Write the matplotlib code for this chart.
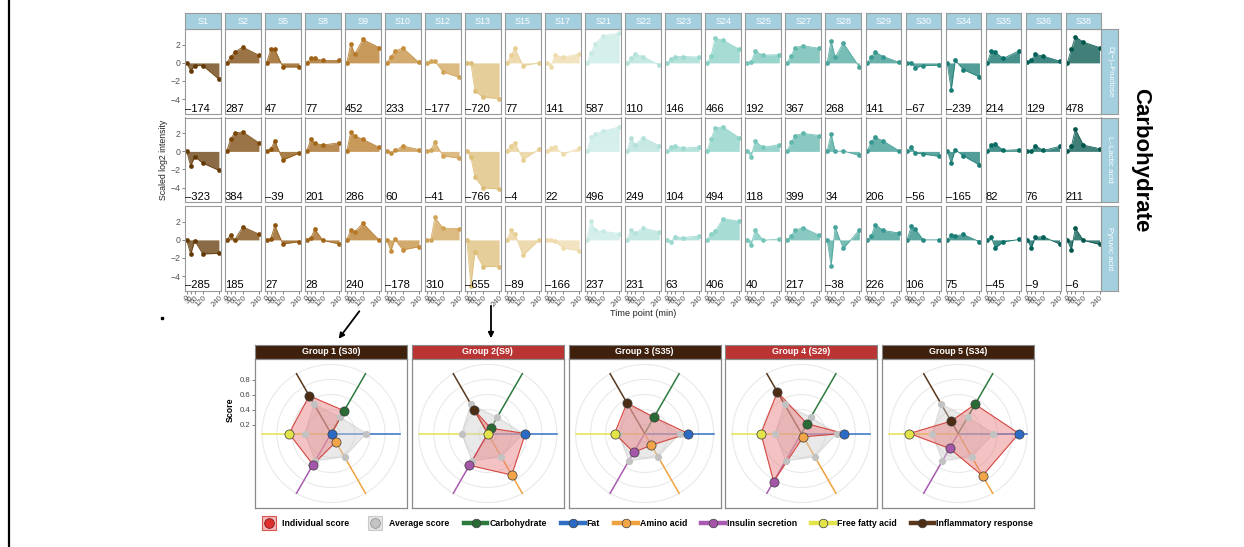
import numpy as np
import matplotlib
matplotlib.use("Agg")
import matplotlib.pyplot as plt
from matplotlib.lines import Line2D
from matplotlib.patches import FancyArrowPatch, Circle
from matplotlib.legend_handler import HandlerTuple

plt.rcParams['font.family'] = ['Liberation Sans', 'DejaVu Sans']

# ---------------------------------------------------------------- data
times = [0, 30, 60, 120, 240]
time_labels = ["0", "30", "60", "120", "240"]
subjects = ["S1", "S2", "S5", "S8", "S9", "S10", "S12", "S13", "S15", "S17",
            "S21", "S22", "S23", "S24", "S25", "S27", "S28", "S29", "S30",
            "S34", "S35", "S36", "S38"]
metabolites = ["D(\u2212)\u2013Fructose", "L\u2013Lactic acid", "Pyruvic acid"]

fructose = [
    [0, -0.9, -0.3, -0.3, -1.8], [0, 0.67, 1.2, 1.75, 0.85], [0, 1.5, 1.5, -0.45, -0.45],
    [0, 0.5, 0.5, 0.27, 0.27], [0, 2.1, 1.0, 2.6, 1.7], [0, 0.65, 1.3, 1.65, 0.05],
    [0, 0.2, 0.2, -1.0, -1.6], [0, 0, -3.1, -3.8, -3.95], [0, 0.85, 1.6, -0.3, 0],
    [0, -0.4, 0.9, 0.6, 1.0], [0, 1.05, 2.1, 3.0, 3.3], [0, 0.5, 1.0, 0.7, -0.25],
    [0, 0.4, 0.7, 0.7, 0.65], [0, 0.75, 2.7, 2.5, 1.5], [0, 0.05, 1.3, 0.85, 0.9],
    [0, 0.8, 1.7, 1.9, 1.6], [0, 2.45, 0.6, 2.2, -0.45], [0, 0.6, 1.2, 0.7, 0.05],
    [0, 0, -0.55, -0.3, -0.25], [0, -3.0, 0.3, -0.75, -1.55], [0, 1.3, 1.15, 0.5, 1.35],
    [0.05, 0.3, 0.95, 0.75, 0.2], [0, 1.5, 2.9, 2.3, 1.7],
]
lactic = [
    [0, -1.6, -0.6, -1.3, -2.1], [0, 1.4, 2.05, 2.15, 0.95], [0, 0.25, 1.15, -0.95, -0.2],
    [0, 1.35, 0.9, 0.7, 0.95], [0, 2.15, 1.7, 1.35, 0.45], [0, -0.2, 0.1, 0.6, 0.2],
    [0, 0.15, 1.05, -0.5, -0.75], [0, -0.65, -2.85, -4.05, -4.15], [0, 0.65, 0.95, -0.9, 0.25],
    [0, 0.4, 0.45, -0.3, 0.35], [0, 1.55, 1.95, 2.25, 2.7], [0, 1.5, 0.75, 1.5, 0.65],
    [0, 0.5, 0.6, 0.35, 0.5], [0, 1.35, 2.6, 2.7, 1.5], [0, -0.6, 1.15, 0.45, 0.75],
    [0, 1.0, 1.75, 2.0, 1.75], [0, 1.9, 0, 0.05, -0.45], [0, 1.05, 1.55, 1.15, 0.05],
    [0, 0.5, -0.15, -0.3, -0.55], [0, -1.25, 0.2, -0.5, -1.5], [0, 0.7, 0.85, 0.1, 0.2],
    [0, 0.05, 0.65, 0.1, 0.55], [0, 0.55, 2.45, 0.7, 0.3],
]
pyruvic = [
    [0, -1.6, -0.1, -1.55, -1.5], [0, 0.55, 0, 1.45, 0.65], [0, 0.1, 1.6, -0.45, -0.2],
    [0, 0.2, 1.2, -0.05, -0.45], [0, 1.1, 0.9, 1.85, 0], [0, -1.2, 0.05, -1.1, -0.75],
    [0, 0, 2.5, 1.3, 1.25], [0, -5.1, -1.3, -2.95, -2.95], [0, 1.05, 0.65, -1.7, 0],
    [0, -0.05, -0.15, -0.9, -1.2], [0, 2.05, 1.05, 0.95, 0.7], [0, 1.1, 0.75, 1.3, 0.9],
    [0, -0.2, 0.35, 0.25, 0.45], [0, 0.65, 0.95, 2.35, 2.05], [0, -0.55, 1.1, -0.05, 0.1],
    [0, 0.45, 1.1, 1.35, 0.5], [0, -2.85, 1.4, -0.95, 1.1], [0, 0.4, 1.7, 1.05, 0.75],
    [0, 1.5, 1.2, 0, 0], [0, 0.5, 0.45, 0.6, -0.2], [0, 0.3, -0.9, -0.2, 0.05],
    [0, -0.9, 0.3, 0.35, -0.45], [0, -1.1, 1.3, -0.05, -0.5],
]
fructose_auc = [-174, 287, 47, 77, 452, 233, -177, -720, 77, 141, 587, 110, 146,
                466, 192, 367, 268, 141, -67, -239, 214, 129, 478]
lactic_auc = [-323, 384, -39, 201, 286, 60, -41, -766, -4, 22, 496, 249, 104,
              494, 118, 399, 34, 206, -56, -165, 82, 76, 211]
pyruvic_auc = [-285, 185, 27, 28, 240, -178, 310, -655, -89, -166, 237, 231, 63,
               406, 40, 217, -38, 226, 106, 75, -45, -9, -6]

radar_categories = ["Carbohydrate", "Fat", "Amino acid", "Insulin secretion",
                    "Free fatty acid", "Inflammatory response"]
average_score = [0.33, 0.55, 0.44, 0.50, 0.43, 0.53]
group_titles = ["Group 1 (S30)", "Group 2(S9)", "Group 3 (S35)", "Group 4 (S29)", "Group 5 (S34)"]
individual_scores = [
    [0.43, 0.09, 0.21, 0.56, 0.64, 0.66],
    [0.16, 0.58, 0.72, 0.57, 0.08, 0.44],
    [0.33, 0.66, 0.26, 0.37, 0.48, 0.55],
    [0.23, 0.65, 0.13, 0.82, 0.62, 0.72],
    [0.53, 0.89, 0.73, 0.31, 0.73, 0.27],
]
score_ticks = [0.2, 0.4, 0.6, 0.8]

# ---------------------------------------------------------------- styling
W, H = 1244, 547
fig = plt.figure(figsize=(W / 100, H / 100), dpi=100)


def px_rect(x0, y0, w, h):
    return [x0 / W, 1 - (y0 + h) / H, w / W, h / H]


def fmt(v):
    return str(v).replace('-', '\u2013')


cmap = plt.get_cmap('BrBG')
shade_pos = list(np.linspace(0.03, 0.37, 10)) + list(np.linspace(0.60, 0.94, 13))
subject_colors = [cmap(p) for p in shade_pos]

strip_color = '#a4cfdf'
frame_color = '#9a9a9a'
tick_color = '#555555'

col_left, col_pitch, col_w = 185, 40.03, 35.5
row_tops, row_h = [29, 117.5, 206], 84.5

rows = [(fructose, fructose_auc), (lactic, lactic_auc), (pyruvic, pyruvic_auc)]
for r, (series, aucs) in enumerate(rows):
    for c, subj in enumerate(subjects):
        ax = fig.add_axes(px_rect(col_left + c * col_pitch, row_tops[r], col_w, row_h))
        y = np.array(series[c], dtype=float)
        col = subject_colors[c]
        ax.fill_between(times, y, 0, color=col, alpha=0.75, lw=0)
        ax.plot(times, y, color=col, lw=0.6, alpha=0.9)
        ax.plot(times, y, 'o', color=col, ms=3.4, mec='none')
        ax.set_xlim(-12, 252)
        ax.set_ylim(-5.6, 3.75)
        ax.text(0.0, 0.0, fmt(aucs[c]), transform=ax.transAxes, ha='left', va='bottom',
                fontsize=8, color='black')
        for s in ax.spines.values():
            s.set_color(frame_color)
            s.set_linewidth(0.8)
        ax.set_xticks(times)
        ax.set_yticks([-4, -2, 0, 2])
        ax.tick_params(length=2, width=0.5, color=tick_color, pad=1)
        if r == 2:
            ax.set_xticklabels(time_labels, rotation=45, ha='right', rotation_mode='anchor',
                               fontsize=5.6, color=tick_color)
        else:
            ax.tick_params(axis='x', length=0)
            ax.set_xticklabels([])
        if c == 0:
            ax.set_yticklabels(['\u22124', '\u22122', '0', '2'], fontsize=6.3, color=tick_color)
        else:
            ax.tick_params(axis='y', length=0)
            ax.set_yticklabels([])

        if r == 0:
            sax = fig.add_axes(px_rect(col_left + c * col_pitch, 13, col_w, 16))
            sax.set_facecolor(strip_color)
            sax.set_xticks([]); sax.set_yticks([])
            for s in sax.spines.values():
                s.set_color(frame_color); s.set_linewidth(0.8)
            sax.text(0.5, 0.5, subj, ha='center', va='center', color='white', fontsize=6.5,
                     transform=sax.transAxes)

    rax = fig.add_axes(px_rect(1101, row_tops[r], 17, row_h))
    rax.set_facecolor(strip_color)
    rax.set_xticks([]); rax.set_yticks([])
    for s in rax.spines.values():
        s.set_color(frame_color); s.set_linewidth(0.8)
    rax.text(0.5, 0.5, metabolites[r], ha='center', va='center', rotation=270,
             color='white', fontsize=5.8, transform=rax.transAxes)

fig.text(643 / W, 1 - 314 / H, "Time point (min)", ha='center', va='center',
         fontsize=6.6, color='#222222')
fig.text(164 / W, 1 - 160 / H, "Scaled log2 intensity", ha='center', va='center',
         rotation=90, fontsize=6.3, color='#222222')
fig.text(1141 / W, 1 - 160 / H, "Carbohydrate", ha='center', va='center',
         rotation=270, fontsize=16, fontweight='bold')

# ---------------------------------------------------------------- radar panels
axis_colors = ['#2d7a3e', '#2f6fc4', '#f0a23e', '#a85bb0', '#e3e44c', '#5a371a']
marker_colors = ['#2a6b35', '#2c6bc5', '#f2a546', '#a457a8', '#e2e44a', '#4d2c14']
title_colors = ['#3e200d', '#ba3434', '#3e200d', '#ba3434', '#3e200d']
R0 = 0.08
angles = np.deg2rad(60 - 60 * np.arange(len(radar_categories)))


def polar_xy(values):
    rr = np.asarray(values, dtype=float) - R0
    return rr * np.cos(angles), rr * np.sin(angles)


for g in range(len(group_titles)):
    left = 255 + 156.8 * g
    tax = fig.add_axes(px_rect(left, 345, 152, 14))
    tax.set_facecolor(title_colors[g])
    tax.set_xticks([]); tax.set_yticks([])
    for s in tax.spines.values():
        s.set_color('#888888'); s.set_linewidth(0.8)
    tax.text(0.5, 0.5, group_titles[g], ha='center', va='center', color='white',
             fontsize=6.4, fontweight='bold', transform=tax.transAxes)

    ax = fig.add_axes(px_rect(left, 359, 152, 149))
    ax.set_xlim(-76 / 75, 76 / 75)
    ax.set_ylim(-74.5 / 75, 74.5 / 75)
    for s in ax.spines.values():
        s.set_color('#8a8a8a'); s.set_linewidth(0.9)
    ax.set_xticks([])

    for ring in [0.2, 0.4, 0.6, 0.8, 1.0]:
        ax.add_patch(Circle((0, 0), ring - R0, fill=False, ec='#e9e9e9', lw=0.8, zorder=1))

    for k in range(len(radar_categories)):
        rr = 1.0 - R0
        ax.plot([0, rr * np.cos(angles[k])], [0, rr * np.sin(angles[k])],
                color=axis_colors[k], lw=1.1, zorder=2)

    ax_, ay_ = polar_xy(average_score)
    ax.fill(ax_, ay_, facecolor='#cfcfcf', alpha=0.45, edgecolor='#bdbdbd', lw=0.8, zorder=3)
    ix, iy = polar_xy(individual_scores[g])
    ax.fill(ix, iy, facecolor='#e8797b', alpha=0.45, edgecolor='none', zorder=4)
    ax.plot(np.append(ix, ix[0]), np.append(iy, iy[0]), color='#d4463f', lw=0.8, zorder=5)
    ax.plot(ax_, ay_, 'o', color='#c2c2c2', ms=5.2, mec='none', zorder=6)
    for k in range(len(radar_categories)):
        ax.plot(ix[k], iy[k], 'o', ms=6.6, mfc=marker_colors[k], mec='#3a3a3a',
                mew=0.5, zorder=7)

    if g == 0:
        ax.set_yticks([t - R0 for t in score_ticks])
        ax.set_yticklabels([str(t) for t in score_ticks], fontsize=5.6, color='#444444')
        ax.tick_params(axis='y', length=2, width=0.5, pad=1, color='#444444')
        ax.set_ylabel("Score", fontsize=6.3, fontweight='bold', labelpad=2)
        ax.yaxis.set_label_coords(-0.135, 0.66)
    else:
        ax.set_yticks([])

# ---------------------------------------------------------------- legend
handles = [
    (Line2D([], [], ls='none', marker='s', ms=10, mfc='#f3b9b9', mec='#d9534f', mew=0.8),
     Line2D([], [], ls='none', marker='o', ms=7, mfc='#e02f2f', mec='#6a1010', mew=0.5)),
    (Line2D([], [], ls='none', marker='s', ms=10, mfc='#e4e4e4', mec='#c9c9c9', mew=0.8),
     Line2D([], [], ls='none', marker='o', ms=7, mfc='#c4c4c4', mec='#8a8a8a', mew=0.5)),
]
for k in range(len(radar_categories)):
    handles.append(Line2D([], [], color=axis_colors[k], lw=3.2, marker='o', ms=6.2,
                          mfc=marker_colors[k], mec='#3a3a3a', mew=0.5))
labels = ["Individual score", "Average score"] + radar_categories
leg = fig.legend(handles, labels, loc='center', bbox_to_anchor=(645 / W, 1 - 524 / H),
                 ncol=8, frameon=False, handler_map={tuple: HandlerTuple(ndivide=1)},
                 prop={'size': 6.3, 'weight': 'bold'}, handlelength=2.7,
                 handletextpad=0.25, columnspacing=1.6)

# ---------------------------------------------------------------- connectors
fig.add_artist(FancyArrowPatch((361 / W, 1 - 309 / H), (337 / W, 1 - 341 / H),
                               transform=fig.transFigure, arrowstyle='-|>',
                               mutation_scale=8, lw=1.3, color='black'))
fig.add_artist(FancyArrowPatch((491 / W, 1 - 303 / H), (491 / W, 1 - 341 / H),
                               transform=fig.transFigure, arrowstyle='-|>',
                               mutation_scale=8, lw=1.3, color='black'))
fig.add_artist(Line2D([8.5 / W, 8.5 / W], [0, 1], color='black', lw=1.6,
                      transform=fig.transFigure))
fig.add_artist(Line2D([162 / W], [1 - 318 / H], marker='s', ms=1.5, color='black',
                      transform=fig.transFigure))

fig.savefig("out.png", dpi=100)
